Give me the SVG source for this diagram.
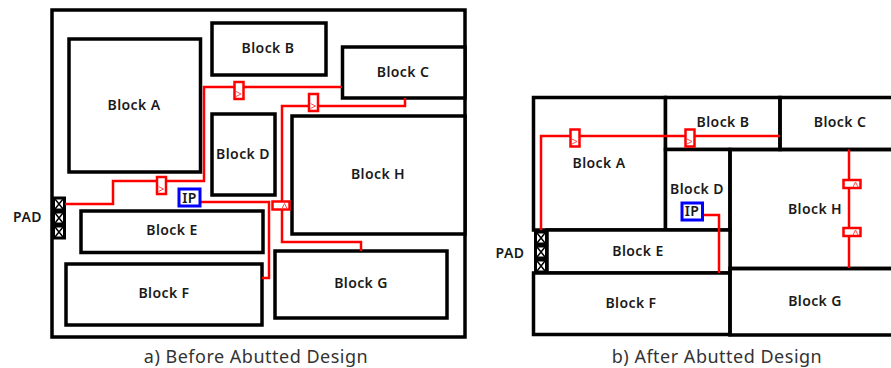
<svg xmlns="http://www.w3.org/2000/svg" width="891" height="368" viewBox="0 0 891 368">
<style>
.b{fill:#fff;stroke:#000;stroke-width:3.5}
.o{fill:none;stroke:#000;stroke-width:3.5}
.t{font-family:"Noto Sans",sans-serif;font-size:14px;font-weight:600;letter-spacing:.4px;fill:#1a1a1a;text-anchor:middle}
.c{font-family:"Noto Sans",sans-serif;font-size:18px;letter-spacing:.5px;fill:#333;text-anchor:middle}
.w{fill:none;stroke:#f00;stroke-width:2.5}
.f{fill:#fff;stroke:#f00;stroke-width:2.5}
.g{fill:none;stroke:#ff4d4d;stroke-width:1}
.ip{fill:#fff;stroke:#00f;stroke-width:3}
.x{fill:#fff;stroke:#000;stroke-width:3}
.xl{stroke:#000;stroke-width:1.5}
</style>
<defs>
<g id="cell"><rect class="x" x="-5.5" y="-6" width="11" height="12"/><path class="xl" d="M-4-5L4 5M4-5L-4 5"/></g>
<g id="ffv"><rect class="f" x="-4.5" y="-8.5" width="9" height="17"/><path class="g" d="M-3 1L2 3.5L-3 6"/></g>
<g id="ffh"><rect class="f" x="-8.5" y="-4" width="17" height="8"/><path class="g" d="M1 3L3.5-2L6 3"/></g>
</defs>
<g id="panel-a">
<rect class="o" x="52" y="10" width="413" height="327"/>
<g id="a-block-a"><rect class="b" x="69" y="39" width="131.500" height="133"/><text class="t" x="134" y="110">Block A</text></g>
<g id="a-block-b"><rect class="b" x="212" y="23" width="114" height="52"/><text class="t" x="268" y="53">Block B</text></g>
<g id="a-block-c"><rect class="b" x="342.500" y="47" width="122.500" height="51"/><text class="t" x="403" y="77">Block C</text></g>
<g id="a-block-d"><rect class="b" x="212" y="114" width="63" height="81"/><text class="t" x="243" y="159">Block D</text></g>
<g id="a-block-h"><rect class="b" x="292" y="116" width="173" height="118"/><text class="t" x="378" y="179">Block H</text></g>
<g id="a-block-e"><rect class="b" x="81" y="211" width="182" height="41.500"/><text class="t" x="172" y="235">Block E</text></g>
<g id="a-block-f"><rect class="b" x="66" y="264" width="196" height="61"/><text class="t" x="164" y="298">Block F</text></g>
<g id="a-block-g"><rect class="b" x="275" y="251" width="172" height="67"/><text class="t" x="361" y="288">Block G</text></g>
<g id="a-pad"><use href="#cell" x="59" y="204"/><use href="#cell" x="59" y="218"/><use href="#cell" x="59" y="232"/><text class="t" x="27.500" y="222">PAD</text></g>
</g>
<g id="panel-b">
<g id="b-block-a"><rect class="b" x="533.500" y="97.500" width="132" height="132.500"/><text class="t" x="599" y="168">Block A</text></g>
<g id="b-block-b"><rect class="b" x="665.500" y="97.500" width="114.500" height="52"/><text class="t" x="723" y="127">Block B</text></g>
<g id="b-block-c"><path class="o" d="M891 97.500H780V149.500H891"/><text class="t" x="840" y="127">Block C</text></g>
<g id="b-block-d"><rect class="b" x="665.500" y="149.500" width="64.500" height="80.500"/><text class="t" x="697" y="194">Block D</text></g>
<g id="b-block-h"><path class="o" d="M891 149.500H730V268.500H891"/><text class="t" x="815" y="214">Block H</text></g>
<g id="b-block-e"><rect class="b" x="547" y="230" width="183" height="43"/><text class="t" x="638" y="256">Block E</text></g>
<g id="b-block-f"><rect class="b" x="533.500" y="273" width="196.500" height="61.500"/><text class="t" x="631" y="308">Block F</text></g>
<g id="b-block-g"><path class="o" d="M891 268.500H730V335H891"/><text class="t" x="815" y="306">Block G</text></g>
<g id="b-pad"><use href="#cell" x="541" y="238"/><use href="#cell" x="541" y="252"/><use href="#cell" x="541" y="266"/><text class="t" x="510" y="258">PAD</text></g>
</g>
<g id="connectors">
<path class="w" d="M65 204H113V181H204V87H342"/>
<path class="w" d="M200 202H269V278H262"/>
<path class="w" d="M405 98V106H282V242H361V251"/>
<path class="w" d="M541 230V136H780"/>
<path class="w" d="M703 215H719V273"/>
<path class="w" d="M849 149.500V268"/>
</g>
<g id="flops">
<use href="#ffv" x="161.500" y="185.500"/><use href="#ffv" x="239" y="90.500"/><use href="#ffv" x="313.500" y="102.500"/><use href="#ffh" x="281" y="205.500"/>
<use href="#ffv" x="575" y="138"/><use href="#ffv" x="690" y="138"/><use href="#ffh" x="852" y="184"/><use href="#ffh" x="852" y="232"/>
</g>
<g id="a-ip"><rect class="ip" x="179" y="189" width="21" height="17"/><text class="t" x="189.500" y="203">IP</text></g>
<g id="b-ip"><rect class="ip" x="682" y="203" width="20.500" height="17"/><text class="t" x="692" y="216">IP</text></g>
<text class="c" x="256" y="363">a) Before Abutted Design</text>
<text class="c" x="717" y="363">b) After Abutted Design</text>
</svg>
